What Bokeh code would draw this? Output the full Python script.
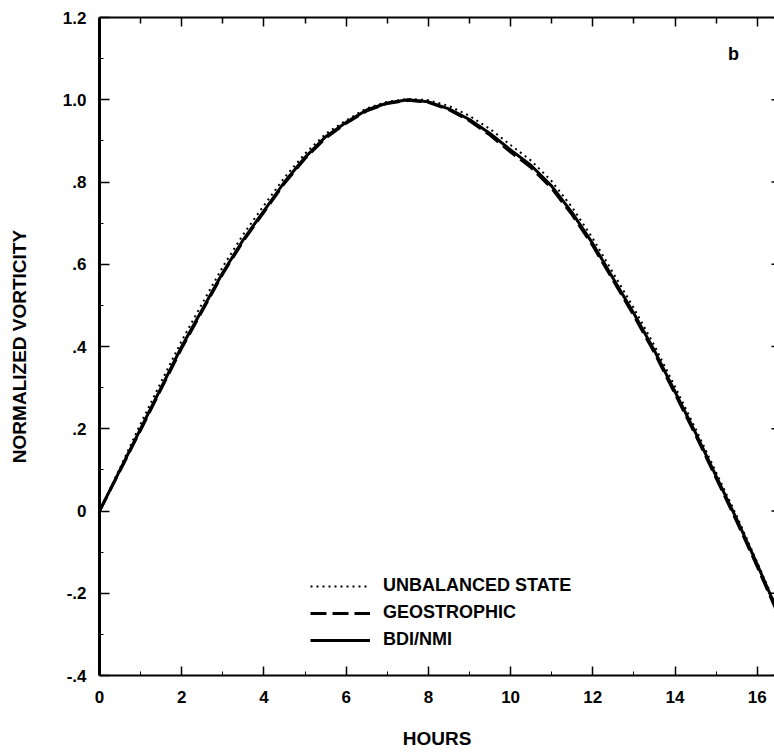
from bokeh.plotting import figure
from bokeh.models import Range1d, FixedTicker, LinearAxis, Legend, LegendItem, Label
from bokeh.embed import file_html
from bokeh.resources import INLINE

# ---- data ----
hours = [0.0, 0.5, 1.0, 1.5, 2.0, 2.5, 3.0, 3.5, 4.0, 4.5, 5.0, 5.5, 6.0, 6.5, 7.0, 7.5,
         8.0, 8.5, 9.0, 9.5, 10.0, 10.5, 11.0, 11.5, 12.0, 12.5, 13.0, 13.5, 14.0, 14.5,
         15.0, 15.5, 16.0, 16.5]

bdi_nmi = [0.00, 0.10, 0.20, 0.30, 0.40, 0.49, 0.58, 0.66, 0.73, 0.80, 0.86, 0.91, 0.945,
           0.975, 0.992, 1.000, 0.995, 0.978, 0.952, 0.918, 0.878, 0.84, 0.79, 0.725, 0.65,
           0.565, 0.48, 0.39, 0.29, 0.19, 0.085, -0.02, -0.13, -0.245]

geostrophic = [0.00, 0.098, 0.197, 0.297, 0.396, 0.487, 0.577, 0.657, 0.727, 0.797, 0.857,
               0.907, 0.943, 0.973, 0.991, 0.999, 0.994, 0.976, 0.949, 0.914, 0.873, 0.835,
               0.785, 0.72, 0.645, 0.56, 0.475, 0.385, 0.285, 0.185, 0.08, -0.025, -0.135,
               -0.25]

unbalanced = [0.00, 0.105, 0.212, 0.314, 0.414, 0.505, 0.594, 0.673, 0.743, 0.811, 0.869,
              0.917, 0.950, 0.979, 0.995, 1.002, 0.999, 0.985, 0.961, 0.929, 0.890, 0.852,
              0.802, 0.738, 0.663, 0.578, 0.493, 0.402, 0.302, 0.200, 0.094, -0.012, -0.125,
              -0.24]

series_names = ["UNBALANCED STATE", "GEOSTROPHIC", "BDI/NMI"]

x_ticks = [0, 2, 4, 6, 8, 10, 12, 14, 16]
x_minor_ticks = [1, 3, 5, 7, 9, 11, 13, 15]
y_ticks = [-0.4, -0.2, 0.0, 0.2, 0.4, 0.6, 0.8, 1.0, 1.2]
y_tick_labels = ["-.4", "-.2", "0", ".2", ".4", ".6", ".8", "1.0", "1.2"]
y_minor_ticks = [-0.3, -0.1, 0.1, 0.3, 0.5, 0.7, 0.9, 1.1]

X_MAX = 16.42
Y_MIN, Y_MAX = -0.4, 1.2
FONT = "Liberation Sans"

p = figure(width=774, height=754,
           x_range=Range1d(0, X_MAX), y_range=Range1d(Y_MIN, Y_MAX),
           output_backend="svg", toolbar_location=None,
           min_border_left=99, min_border_right=0, min_border_top=17, min_border_bottom=79)

p.outline_line_color = None
p.xgrid.visible = False
p.ygrid.visible = False
p.background_fill_color = "white"
p.border_fill_color = "white"

# bottom axis
xa = p.xaxis[0]
xa.ticker = FixedTicker(ticks=x_ticks, minor_ticks=x_minor_ticks)
xa.axis_label = "HOURS"
xa.axis_line_width = 2
xa.major_tick_in = 9
xa.major_tick_out = 0
xa.minor_tick_in = 4
xa.minor_tick_out = 0
xa.major_tick_line_width = 1.5
xa.major_label_standoff = 15
xa.axis_label_standoff = 22
xa.major_label_text_font = FONT
xa.major_label_text_font_style = "bold"
xa.major_label_text_font_size = "17px"
xa.axis_label_text_font = FONT
xa.axis_label_text_font_style = "bold"
xa.axis_label_text_font_size = "19px"
xa.major_label_text_color = "black"
xa.axis_label_text_color = "black"

# left axis
ya = p.yaxis[0]
ya.ticker = FixedTicker(ticks=y_ticks, minor_ticks=y_minor_ticks)
ya.major_label_overrides = {v: s for v, s in zip(y_ticks, y_tick_labels)}
ya.axis_label = "NORMALIZED VORTICITY"
ya.axis_line_width = 3
ya.major_tick_in = 10
ya.major_tick_out = 0
ya.minor_tick_in = 4
ya.minor_tick_out = 0
ya.major_tick_line_width = 1.5
ya.major_label_standoff = 13
ya.axis_label_standoff = 30
ya.major_label_text_font = FONT
ya.major_label_text_font_style = "bold"
ya.major_label_text_font_size = "17px"
ya.axis_label_text_font = FONT
ya.axis_label_text_font_style = "bold"
ya.axis_label_text_font_size = "19px"
ya.major_label_text_color = "black"
ya.axis_label_text_color = "black"

# top frame with inward ticks and no tick labels
ta = LinearAxis(ticker=FixedTicker(ticks=x_ticks, minor_ticks=x_minor_ticks),
                axis_line_width=2, major_tick_in=9, major_tick_out=0,
                minor_tick_in=6, minor_tick_out=0, major_tick_line_width=1.5,
                minor_tick_line_width=1.5, major_label_standoff=0,
                major_label_overrides={t: "" for t in x_ticks})
p.add_layout(ta, "above")

# stubs of the right frame's inward ticks (the right frame lies just beyond the page)
p.ray(x=[X_MAX] * len(y_ticks), y=y_ticks, length=3, length_units="screen",
      angle=3.14159, line_color="black", line_width=1.5)

# lines
r_unb = p.line(hours, unbalanced, line_color="black", line_width=2, line_dash="2 4")
r_geo = p.line(hours, geostrophic, line_color="black", line_width=3, line_dash="16 6")
r_bdi = p.line(hours, bdi_nmi, line_color="black", line_width=3)

legend = Legend(items=[LegendItem(label=series_names[0], renderers=[r_unb]),
                       LegendItem(label=series_names[1], renderers=[r_geo]),
                       LegendItem(label=series_names[2], renderers=[r_bdi])],
                location=(211, 25), glyph_width=60, glyph_height=20,
                label_height=20, spacing=6, padding=0, margin=0, label_standoff=13,
                border_line_color=None, background_fill_alpha=0,
                label_text_font=FONT, label_text_font_style="bold",
                label_text_font_size="18px", label_text_color="black")
p.add_layout(legend)

p.add_layout(Label(x=15.42, y=1.112, text="b", text_font=FONT, text_font_style="bold",
                   text_font_size="18px", text_align="center", text_baseline="middle",
                   text_color="black"))

open("out.html", "w").write(file_html(p, INLINE))
